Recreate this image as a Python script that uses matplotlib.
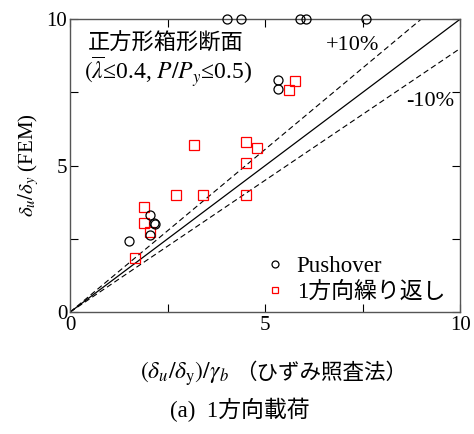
import numpy as np
import matplotlib.pyplot as plt

plt.rcParams['font.family'] = ['Liberation Serif', 'Noto Sans CJK JP']
plt.rcParams['mathtext.fontset'] = 'stix'

# Pushover results (points at the top are off-scale, plotted on y=10)
push_x = [4.02, 4.38, 5.88, 6.05, 7.59, 5.32, 5.34, 1.51, 2.05, 2.15, 2.17, 2.05]
push_y = [10.0, 10.0, 10.0, 10.0, 10.0, 7.92, 7.60, 2.43, 3.31, 3.05, 3.00, 2.63]

# 1-direction cyclic results
cyc_x = [5.77, 5.61, 3.18, 4.50, 4.78, 4.50, 2.72, 3.40, 4.50, 1.89, 1.89, 2.05, 1.67]
cyc_y = [7.88, 7.58, 5.69, 5.79, 5.59, 5.10, 3.99, 3.99, 3.99, 3.59, 3.03, 2.74, 1.83]

line_x = np.array([0, 10])

fig = plt.figure(figsize=(4.74, 4.34), dpi=100)
ax = fig.add_axes([0.148, 0.281, 0.823, 0.675])

ax.plot(line_x, line_x, color='black', lw=0.9)
ax.plot(line_x, line_x / 0.9, color='black', lw=0.8, ls=(0, (5, 3)))
ax.plot(line_x, line_x * 0.9, color='black', lw=0.8, ls=(0, (5, 3)))

ax.plot(push_x, push_y, 'o', ms=6.5, mfc='none', mec='black', mew=0.9,
        clip_on=False, label='Pushover', zorder=4)
ax.plot(cyc_x, cyc_y, 's', ms=6.5, mfc='none', mec='red', mew=0.9,
        clip_on=False, label='1方向繰り返し', zorder=3)

ax.set_xlim(0, 10)
ax.set_ylim(0, 10)
ax.set_xticks([0, 5, 10])
ax.set_yticks([0, 5, 10])
ax.set_xticks([2.5, 7.5], minor=True)
ax.set_yticks([2.5, 7.5], minor=True)
ax.tick_params(which='both', direction='in', top=True, right=True,
               labelsize=15, pad=2)
ax.tick_params(axis='x', pad=3)
ax.tick_params(which='major', length=6, width=0.8)
ax.tick_params(which='minor', length=6, width=0.8)
for s in ax.spines.values():
    s.set_linewidth(1.0)
    s.set_color('#555555')

ax.text(0.045, 0.915, '正方形箱形断面', transform=ax.transAxes,
        fontsize=16, va='center', ha='left')
ax.text(0.035, 0.82, r'$(\overline{\lambda}$≤0.4, $P/P_y$≤0.5)', transform=ax.transAxes,
        fontsize=17, va='center', ha='left')
ax.text(0.655, 0.91, '+10%', transform=ax.transAxes, fontsize=16,
        va='center', ha='left')
ax.text(0.862, 0.72, '-10%', transform=ax.transAxes, fontsize=16,
        va='center', ha='left')

leg = ax.legend(loc='lower left', frameon=False, fontsize=16.5, handletextpad=0.45,
                handlelength=1.0, borderaxespad=0.0, labelspacing=0.2,
                bbox_to_anchor=(0.472, 0.0))
for h in leg.legend_handles:
    h.set_markersize(5)

ax.set_ylabel(r'$\delta_u/\delta_y$ (FEM)', fontsize=15, labelpad=4)
fig.text(0.295, 0.14, r'$(\delta_u/\delta_{\mathrm{y}})/\gamma_b$',
         fontsize=17, ha='left', va='center')
fig.text(0.497, 0.14, '（ひずみ照査法）', fontsize=15.5, ha='left', va='center')
fig.text(0.358, 0.055, '(a)  1方向載荷', fontsize=16.5, ha='left', va='center')

fig.savefig('out.png', dpi=100)
